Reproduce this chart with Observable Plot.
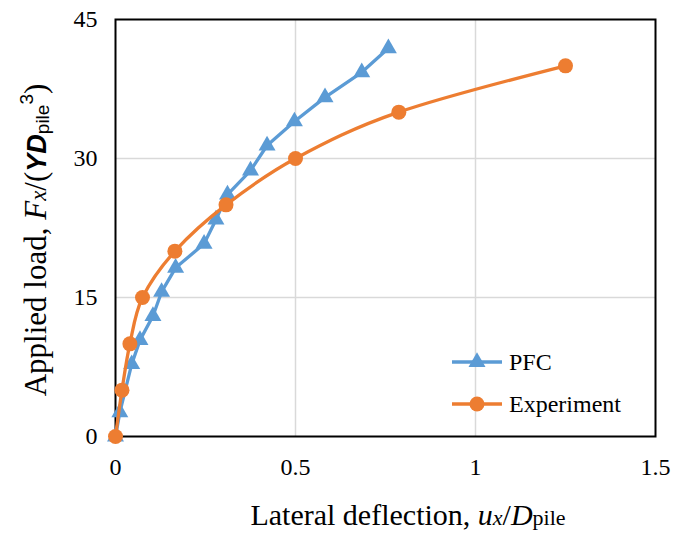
<!DOCTYPE html>
<html>
<head>
<meta charset="utf-8">
<script src="https://cdn.jsdelivr.net/npm/d3@7"></script>
<script src="https://cdn.jsdelivr.net/npm/@observablehq/plot@0.6"></script>
<style>
  html, body { margin: 0; padding: 0; background: #fff; }
  #chart { position: relative; width: 684px; height: 533px; }
  #legend { position: absolute; left: 448px; top: 345px; }
</style>
</head>
<body>
<div id="chart"></div>
<script>
// Normalised lateral load vs. lateral deflection of the pile
const pfcDeflection = [0, 0.012, 0.045, 0.068, 0.104, 0.128, 0.167, 0.246, 0.279, 0.311, 0.375, 0.421, 0.497, 0.582, 0.684, 0.758];
const pfcLoad       = [0, 2.6, 7.8, 10.4, 13.0, 15.6, 18.2, 20.8, 23.4, 26.1, 28.7, 31.4, 34.0, 36.6, 39.3, 41.9];

const expDeflection = [0, 0.018, 0.04, 0.075, 0.165, 0.307, 0.5, 0.787, 1.25];
const expLoad       = [0, 5, 10, 15, 20, 25, 30, 35, 40];

const xTicks = [0, 0.5, 1, 1.5];
const yTicks = [0, 15, 30, 45];

const seriesNames  = ["PFC", "Experiment"];
const seriesColors = ["#5B9BD5", "#ED7D31"];

const pfc = pfcDeflection.map((x, i) => ({x, y: pfcLoad[i]}));
const exp = expDeflection.map((x, i) => ({x, y: expLoad[i]}));

const serif = "'Liberation Serif', 'Times New Roman', serif";
const sans  = "'Liberation Sans', Arial, sans-serif";
const fmt = d => String(d);

const chart = Plot.plot({
  width: 684,
  height: 533,
  marginLeft: 115,
  marginRight: 29,
  marginTop: 19,
  marginBottom: 97,
  style: {fontFamily: serif, fontSize: "24px", color: "#000", background: "#fff"},
  x: {domain: [0, 1.5]},
  y: {domain: [0, 45]},
  marks: [
    Plot.gridX([0.5, 1], {stroke: "#d9d9d9", strokeOpacity: 1, strokeWidth: 1.5}),
    Plot.gridY([15, 30], {stroke: "#d9d9d9", strokeOpacity: 1, strokeWidth: 1.5}),
    Plot.frame({stroke: "#000", strokeWidth: 2}),
    Plot.axisX({ticks: xTicks, tickFormat: fmt, tickSize: 0, tickPadding: 21, label: null, fontSize: 24}),
    Plot.axisY({ticks: yTicks, tickFormat: fmt, tickSize: 0, tickPadding: 18, label: null, fontSize: 24}),
    Plot.line(pfc, {x: "x", y: "y", stroke: seriesColors[0], strokeWidth: 3.3}),
    Plot.dot(pfc, {x: "x", y: "y", symbol: "triangle", r: 6.3, fill: seriesColors[0], stroke: "none"}),
    Plot.line(exp, {x: "x", y: "y", stroke: seriesColors[1], strokeWidth: 3.3, curve: "cardinal"}),
    Plot.dot(exp, {x: "x", y: "y", symbol: "circle", r: 7.5, fill: seriesColors[1], stroke: "none"})
  ]
});

document.getElementById("chart").appendChild(chart);

// Axis titles with italic symbols, subscripts and superscripts
const svg = d3.select(chart);

const xt = svg.append("text")
  .attr("x", 408).attr("y", 525)
  .attr("text-anchor", "middle")
  .attr("font-family", serif).attr("font-size", 30).attr("fill", "#000");
xt.append("tspan").text("Lateral deflection, ");
xt.append("tspan").attr("font-style", "italic").text("u");
xt.append("tspan").attr("font-style", "italic").attr("font-size", 22).text("x");
xt.append("tspan").text("/");
xt.append("tspan").attr("font-style", "italic").text("D");
xt.append("tspan").attr("font-size", 22).text("pile");

const yt = svg.append("text")
  .attr("transform", "translate(46,240) rotate(-90)")
  .attr("text-anchor", "middle")
  .attr("font-family", serif).attr("font-size", 31).attr("fill", "#000");
yt.append("tspan").text("Applied load, ");
yt.append("tspan").attr("font-style", "italic").text("F");
yt.append("tspan").attr("font-style", "italic").attr("font-size", 23).text("x");
yt.append("tspan").text("/(");
yt.append("tspan").attr("font-family", sans).attr("font-weight", "bold").attr("font-style", "italic").attr("font-size", 27).text("YD");
yt.append("tspan").attr("font-family", sans).attr("font-size", 19).attr("dy", 3).text("pile");
yt.append("tspan").attr("font-family", sans).attr("font-size", 19).attr("dy", -16).text("3");
yt.append("tspan").attr("dy", 13).text(")");

// Legend inside the plotting area
const legend = d3.select("#chart").append("svg")
  .attr("id", "legend").attr("width", 220).attr("height", 80);
seriesNames.forEach((name, i) => {
  const g = legend.append("g").attr("transform", `translate(0,${17 + i * 42})`);
  g.append("line").attr("x1", 4).attr("x2", 54).attr("y1", 0).attr("y2", 0)
    .attr("stroke", seriesColors[i]).attr("stroke-width", 3.3);
  g.append("path")
    .attr("d", d3.symbol(i === 0 ? d3.symbolTriangle : d3.symbolCircle, i === 0 ? Math.PI * 40 : Math.PI * 56)())
    .attr("transform", "translate(29,0)")
    .attr("fill", seriesColors[i]);
  g.append("text").attr("x", 61).attr("y", 8)
    .attr("font-family", serif).attr("font-size", 24).attr("fill", "#000")
    .text(name);
});
</script>
</body>
</html>
